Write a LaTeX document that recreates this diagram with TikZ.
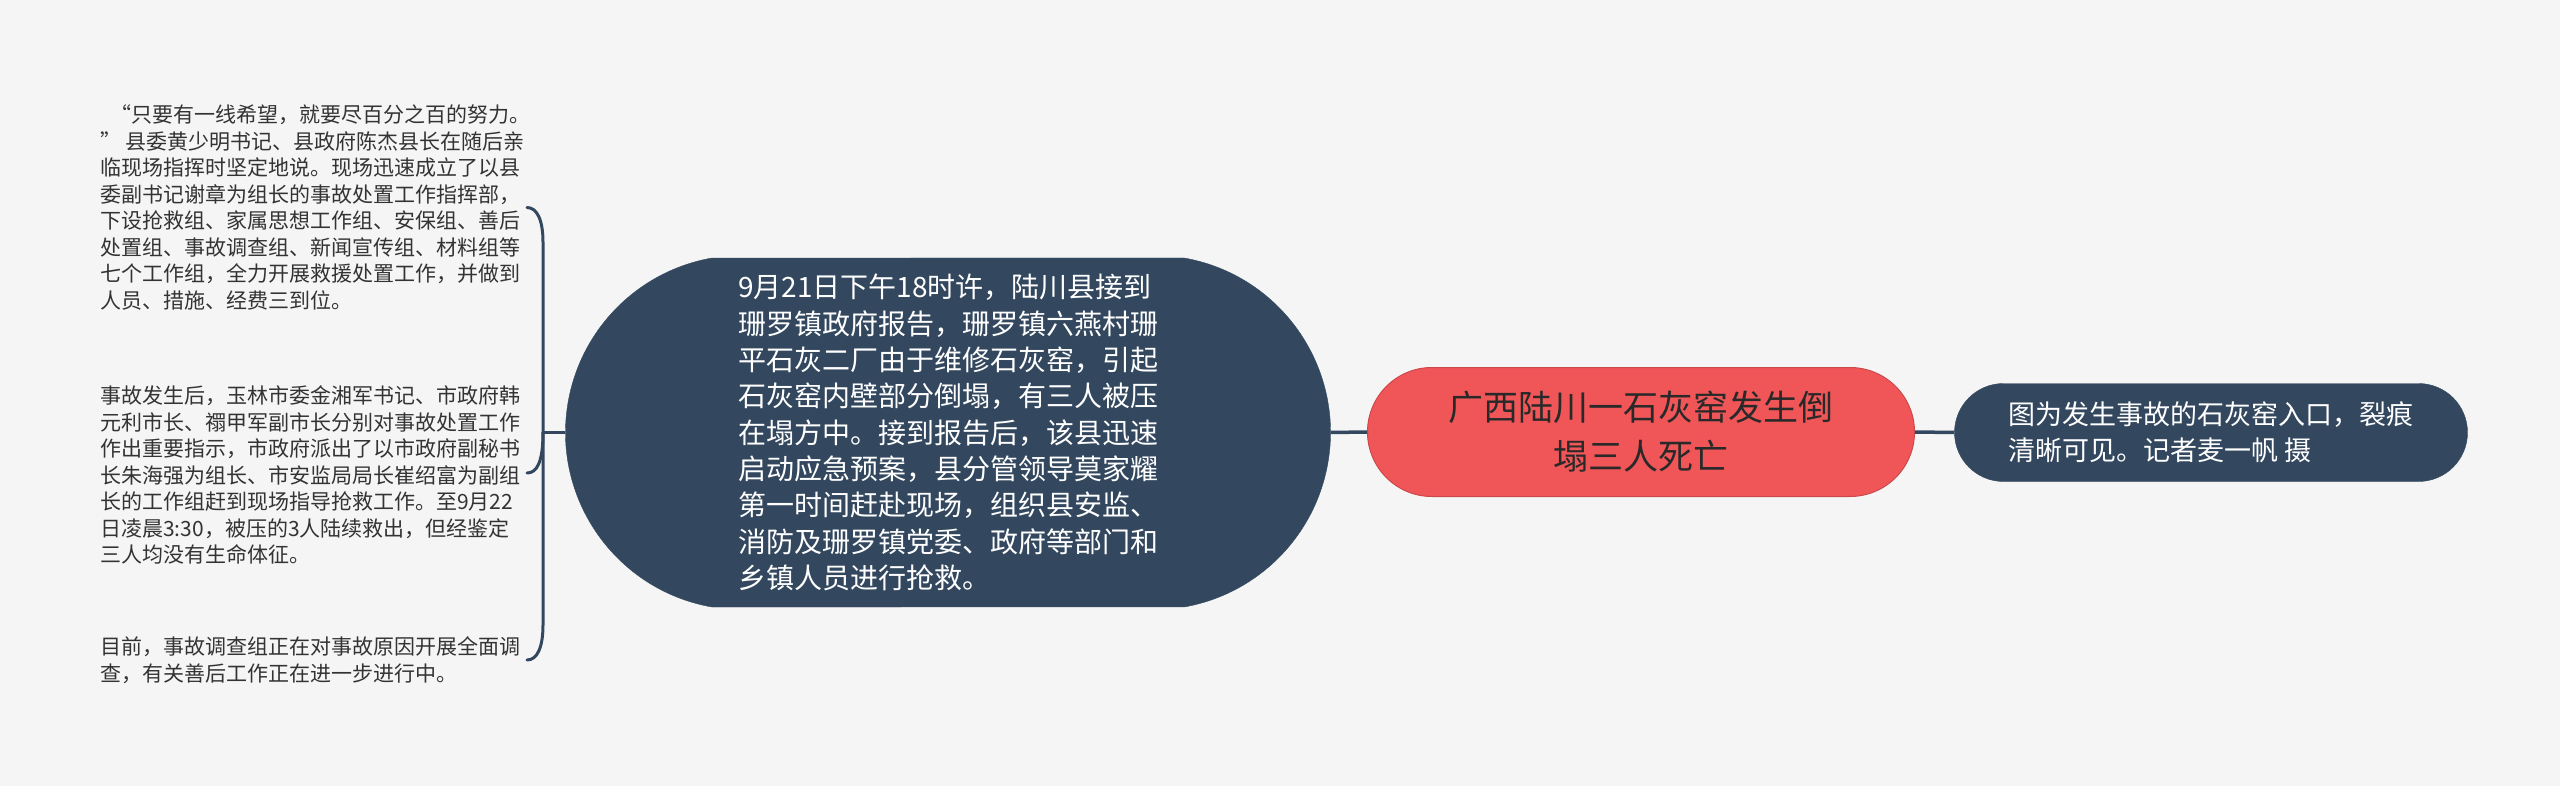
\documentclass[tikz,border=0pt]{standalone}
\usepackage{fontspec}
\setmainfont{Noto Sans CJK SC}
\usetikzlibrary{shapes.misc}
\definecolor{bg}{HTML}{F5F5F5}
\definecolor{navy}{HTML}{33485F}
\definecolor{coral}{HTML}{F05658}
\definecolor{ink}{HTML}{333333}
\tikzset{
  leaf/.style={anchor=west, align=left, inner sep=0pt, text=ink, font=\fontsize{21}{26.5}\selectfont},
  bignode/.style={rounded rectangle, rounded rectangle arc length=160, fill=navy, draw=navy, text=white, align=left,
    minimum width=765, minimum height=349, inner sep=0pt, font=\fontsize{28}{36.3}\selectfont},
  rootnode/.style={rounded rectangle, fill=coral, draw=coral!85!black, line width=1pt, text=ink!80!black, align=center,
    minimum width=547, minimum height=129, inner sep=0pt, font=\fontsize{35}{49}\selectfont},
  rightnode/.style={rounded rectangle, fill=navy, draw=navy, text=white, align=left,
    minimum width=513, minimum height=98, inner sep=0pt, font=\fontsize{27}{36}\selectfont},
  link/.style={draw=navy, line width=3.5pt},
  bracelink/.style={draw=navy, line width=3pt, line cap=round}
}
\begin{document}
\begin{tikzpicture}[x=1pt,y=-1pt]
\fill[bg] (0,0) rectangle (2560,786);
\useasboundingbox (0,0) rectangle (2560,786);

\node[rootnode] (root) at (1641,432) {广西陆川一石灰窑发生倒\\塌三人死亡};
\node[rightnode] (pic) at (2211,432.5) {图为发生事故的石灰窑入口，裂痕\\清晰可见。记者麦一帆 摄};
\node[bignode] (main) at (948,432.5) {9月21日下午18时许，陆川县接到\\
珊罗镇政府报告，珊罗镇六燕村珊\\
平石灰二厂由于维修石灰窑，引起\\
石灰窑内壁部分倒塌，有三人被压\\
在塌方中。接到报告后，该县迅速\\
启动应急预案，县分管领导莫家耀\\
第一时间赶赴现场，组织县安监、\\
消防及珊罗镇党委、政府等部门和\\
乡镇人员进行抢救。};

\node[leaf] (t1) at (100,207.5) {\hspace{10pt}“只要有一线希望，就要尽百分之百的努力。\\
” 县委黄少明书记、县政府陈杰县长在随后亲\\
临现场指挥时坚定地说。现场迅速成立了以县\\
委副书记谢章为组长的事故处置工作指挥部，\\
下设抢救组、家属思想工作组、安保组、善后\\
处置组、事故调查组、新闻宣传组、材料组等\\
七个工作组，全力开展救援处置工作，并做到\\
人员、措施、经费三到位。};
\node[leaf] (t2) at (100,475) {事故发生后，玉林市委金湘军书记、市政府韩\\
元利市长、禤甲军副市长分别对事故处置工作\\
作出重要指示，市政府派出了以市政府副秘书\\
长朱海强为组长、市安监局局长崔绍富为副组\\
长的工作组赶到现场指导抢救工作。至9月22\\
日凌晨3:30，被压的3人陆续救出，但经鉴定\\
三人均没有生命体征。};
\node[leaf] (t3) at (100,660) {目前，事故调查组正在对事故原因开展全面调\\
查，有关善后工作正在进一步进行中。};

\coordinate (J) at (543,432.5);
\coordinate (e1) at (527,207.5);
\coordinate (e2) at (527,473);
\coordinate (e3) at (527,660);

\draw[link] (root.east) -- (pic.west);
\draw[link] (main.east) -- (root.west);
\draw[link] (J) -- (main.west);
\draw[bracelink] (J) -- (543,242) .. controls (543,220) and (537,207.5) .. (e1);
\draw[bracelink] (J) .. controls (543,462) and (537,473) .. (e2);
\draw[bracelink] (J) -- (543,625) .. controls (543,648) and (537,660) .. (e3);
\end{tikzpicture}
\end{document}
